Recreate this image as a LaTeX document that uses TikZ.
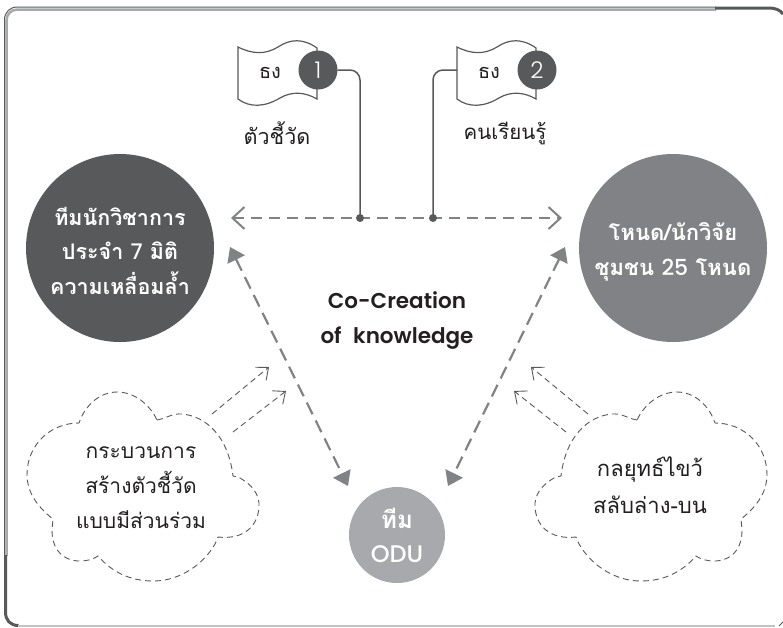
\documentclass[tikz,border=0pt]{standalone}
\usepackage{fontspec}
\setmainfont[Script=Thai]{Loma}
\newfontfamily\latfont{Poppins}
\newfontfamily\latmed{Poppins Medium}
\newfontfamily\latsemi{Poppins SemiBold}
\newfontfamily\latlight{Poppins Light}
\newcommand{\lat}[1]{{\mdseries\latmed #1}}
\usetikzlibrary{arrows.meta}
\definecolor{dk}{HTML}{58595B}
\definecolor{md}{HTML}{808285}
\definecolor{lt}{HTML}{A7A9AC}
\definecolor{ink}{HTML}{231F20}
\newcommand{\cloudpath}{
  (157,420) to[out=10,in=175] (182,414)
  .. controls (205,416) and (228,435) .. (233,476)
  -- (238,477) .. controls (252,484) and (260,495) .. (259,507)
  .. controls (258,525) and (245,540) .. (218,537)
  .. controls (212,555) and (187,581) .. (153,581)
  .. controls (130,581) and (112,572) .. (98,556)
  .. controls (85,565) and (52,565) .. (52,530)
  -- (53,519) .. controls (35,505) and (27,490) .. (27,475)
  .. controls (27,445) and (50,423) .. (79,423)
  .. controls (85,405) and (100,392) .. (117,392)
  .. controls (135,392) and (150,405) .. (157,420) -- cycle}
\newcommand{\flagpath}{
  (238,47) .. controls (252,54) and (265,55) .. (278,47)
  .. controls (290,39) and (303,38) .. (317,48) -- (317,99)
  .. controls (305,92) and (292,91) .. (280,98)
  .. controls (265,107) and (250,108) .. (238,99) -- cycle}
\tikzset{
  x=1pt,y=-1pt,
  frameline/.style={line width=1pt,draw=dk},
  framegray/.style={line width=2.5pt,draw=lt},
  framedark/.style={line width=3pt,draw=dk},
  bigcirc/.style={circle,minimum size=188pt,inner sep=0pt},
  circtext/.style={inner sep=0pt,text=white,align=center,font=\fontsize{21.5}{34.5}\selectfont\bfseries},
  thin label/.style={text=ink,align=center,inner sep=0pt},
  flagline/.style={line width=1.2pt,draw=dk,fill=white},
  badge/.style={circle,minimum size=39pt,inner sep=0pt,fill=dk,text=white,font=\fontsize{23}{26}\selectfont\latlight},
  flagtext/.style={text=ink,inner sep=0pt,font=\fontsize{20}{24}\selectfont},
  wire/.style={line width=1.5pt,draw=dk,rounded corners=10pt},
  dotnode/.style={circle,minimum size=8pt,inner sep=0pt,fill=dk},
  hdash/.style={line width=2pt,draw=md,dash pattern=on 11pt off 7pt,{Straight Barb[length=12pt,width=22pt,line width=2pt]}-{Straight Barb[length=12pt,width=22pt,line width=2pt]}},
  ddash/.style={line width=2.2pt,draw=md,dash pattern=on 13pt off 7pt,{Triangle[length=14pt,width=19pt]}-{Triangle[length=14pt,width=19pt]}},
  sdash/.style={line width=0.9pt,draw=dk,dash pattern=on 6pt off 4pt,-{Straight Barb[length=10pt,width=17pt,line width=0.9pt]}},
  cloudline/.style={line width=0.9pt,draw=dk,dash pattern=on 6pt off 4pt,fill=white},
}
\begin{document}
\begin{tikzpicture}
\useasboundingbox (0,0) rectangle (783,627);
% frame
\draw[framegray] (6.5,556) -- (6.5,21) .. controls (6.5,14) and (11,9.5) .. (18,9.5) -- (716,9.5);
\draw[frameline] (4.5,556) -- (4.5,20) .. controls (4.5,12) and (10,7) .. (17.5,7) -- (716,7);
\draw[framedark] (715,8) -- (768,8) .. controls (776,8) and (780,10) .. (783,14);
\draw[framedark] (5.5,555) -- (5.5,612) .. controls (5.5,620) and (10,625.5) .. (18.5,625.5);
\draw[line width=1.2pt,draw=lt!70] (18,626) -- (775,626);
\draw[line width=1pt,draw=dk] (779,626) -- (783,622);
% circles
\node[bigcirc,fill=dk] (team) at (120,248) {};
\node[circtext] (teamtext) at (120,250.5) {ทีมนักวิชาการ\\ประจำ \lat{7} มิติ\\ความเหลื่อมล้ำ};
\node[bigcirc,fill=md] (node) at (673,248) {};
\node[circtext,font=\fontsize{22}{35}\selectfont\bfseries] (nodetext) at (673,252) {โหนด/นักวิจัย\\ชุมชน \lat{25} โหนด};
\node[circle,minimum size=96pt,inner sep=0pt,fill=lt,text=white,align=center,font=\fontsize{24}{34}\selectfont\bfseries] (odu) at (397,535) {ทีม\\\lat{ODU}};
\node[text=ink,align=center,inner sep=0pt,font=\fontsize{21.5}{35}\selectfont\latsemi] (cc) at (397,320) {Co-Creation\\of\hspace{0.3em} knowledge};
% main arrows
\coordinate (hl) at (231,218);
\coordinate (hr) at (562,218);
\draw[hdash] (hl) -- (hr);
\coordinate (dl1) at (230,247);
\coordinate (dl2) at (348,486);
\coordinate (dr1) at (565,247);
\coordinate (dr2) at (448,486);
\draw[ddash] (dl1) -- (dl2);
\draw[ddash] (dr1) -- (dr2);
% flags
\draw[flagline] \flagpath;
\begin{scope}[xshift=219pt]
\draw[flagline] \flagpath;
\end{scope}
\node[flagtext] (fl1) at (270,73) {ธง};
\node[flagtext] (fl2) at (489,73) {ธง};
\node[badge] (b1) at (318,70) {1};
\node[badge] (b2) at (537,70) {2};
\coordinate (f2) at (457,70);
\node[dotnode] (d1) at (360,218) {};
\node[dotnode] (d2) at (433,218) {};
\draw[wire] (b1.east) -| (d1.center);
\draw[wire] (f2) -| (d2.center);
\node[thin label,font=\fontsize{21.5}{24}\selectfont] (l1) at (277,133) {ตัวชี้วัด};
\node[thin label,font=\fontsize{20.5}{24}\selectfont] (l2) at (505,133) {คนเรียนรู้};
% clouds
\coordinate (a1s) at (212,414); \coordinate (a1e) at (269,367);
\coordinate (a2s) at (233,432); \coordinate (a2e) at (286,391);
\coordinate (a3s) at (588,414); \coordinate (a3e) at (531,367);
\coordinate (a4s) at (566,432); \coordinate (a4e) at (514,391);
\draw[sdash] (a1s) -- (a1e);
\draw[sdash] (a2s) -- (a2e);
\draw[sdash] (a3s) -- (a3e);
\draw[sdash] (a4s) -- (a4e);
\draw[cloudline] \cloudpath;
\begin{scope}[xshift=794pt,xscale=-1]
\draw[cloudline] \cloudpath;
\end{scope}
\node[thin label,font=\fontsize{21}{35}\selectfont] (t1) at (141,488) {กระบวนการ\\สร้างตัวชี้วัด\\แบบมีส่วนร่วม};
\node[thin label,font=\fontsize{22}{37}\selectfont] (t2) at (650,485) {กลยุทธ์ไขว้\\สลับล่าง-บน};
\end{tikzpicture}
\end{document}
